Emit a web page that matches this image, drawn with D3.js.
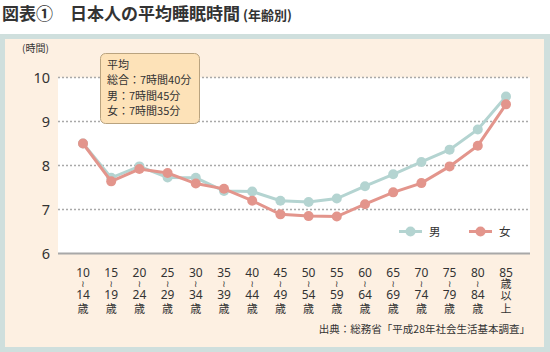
<!DOCTYPE html>
<html>
<head>
<meta charset="utf-8">
<script src="https://cdn.jsdelivr.net/npm/d3@7"></script>
<style>
	body { margin: 0; background: #fff; }
	svg { display: block; font-family: "Noto Sans CJK JP", "Noto Sans", sans-serif; }
</style>
</head>
<body>
<div id="chart"></div>
<script>
// age groups (top number, bottom lines)
const ageFrom = ['10','15','20','25','30','35','40','45','50','55','60','65','70','75','80','85'];
const ageTo = ['14','19','24','29','34','39','44','49','54','59','64','69','74','79','84',null];
// hours of sleep
const male = [8.50, 7.72, 7.98, 7.73, 7.72, 7.42, 7.41, 7.20, 7.17, 7.25, 7.53, 7.80, 8.08, 8.36, 8.82, 9.57];
const female = [8.50, 7.64, 7.92, 7.83, 7.59, 7.47, 7.20, 6.89, 6.85, 6.84, 7.12, 7.39, 7.60, 7.98, 8.45, 9.39];
const yTicks = [6, 7, 8, 9, 10];
const avgLines = ['平均', '総合：7時間40分', '男：7時間45分', '女：7時間35分'];

const width = 550, height = 352;
const maleColor = '#b4d4d1', femaleColor = '#e3958c';

const svg = d3.select('#chart').append('svg').attr('width', width).attr('height', height);

// title
const title = svg.append('text').attr('x', 2).attr('y', 20).attr('fill', '#333').style('font-weight', 'bold');
title.append('tspan').style('font-size', '17px').text('図表①');
title.append('tspan').attr('x', 70).style('font-size', '17px').text('日本人の平均睡眠時間');
title.append('tspan').attr('dx', 3).style('font-size', '13px').text('(年齢別)');

// frame
svg.append('rect').attr('x', 0).attr('y', 34).attr('width', 550).attr('height', 318).attr('fill', '#cfdfdd');
svg.append('rect').attr('x', 5).attr('y', 39).attr('width', 539).attr('height', 308).attr('fill', '#fdf0e2');

const x = d3.scalePoint().domain(ageFrom).range([83, 506]);
const y = d3.scaleLinear().domain([6, 10]).range([253.5, 77.5]);

// plot background
svg.append('rect').attr('x', 58).attr('y', y(10)).attr('width', 472).attr('height', y(6) - y(10)).attr('fill', '#fff');

// gridlines
svg.append('g').selectAll('line').data(yTicks.filter(d => d > 6)).join('line')
	.attr('x1', 58).attr('x2', 530)
	.attr('y1', d => y(d)).attr('y2', d => y(d))
	.attr('stroke', '#a9a9a9').attr('stroke-width', 1.5).attr('stroke-dasharray', '2,2');
svg.append('line').attr('x1', 58).attr('x2', 530).attr('y1', y(6)).attr('y2', y(6))
	.attr('stroke', '#a8a8a8').attr('stroke-width', 2);

// y axis labels
const yAxis = svg.append('g').attr('transform', 'translate(50,0)')
	.call(d3.axisLeft(y).tickValues(yTicks).tickFormat(d3.format('d')).tickSize(0).tickPadding(0));
yAxis.select('.domain').remove();
yAxis.selectAll('text').attr('fill', '#333').style('font-size', '14.5px')
	.style('font-family', '"Noto Sans", sans-serif');
svg.append('text').attr('x', 22).attr('y', 52).attr('fill', '#333').style('font-size', '10px').text('(時間)');

// x labels: one text per category, stacked with tspans
const xl = svg.append('g').selectAll('text').data(ageFrom).join('text')
	.attr('transform', d => `translate(${x(d)},0)`).attr('fill', '#333').attr('text-anchor', 'middle');
xl.each(function(d, i) {
	const t = d3.select(this);
	t.append('tspan').attr('x', 0).attr('y', 276.5).style('font-size', '12px')
		.style('font-family', '"Noto Sans", sans-serif').text(d);
	if (ageTo[i]) {
		t.append('tspan').attr('x', 0).attr('y', 287).style('font-size', '9px')
			.style('font-family', '"DejaVu Sans", sans-serif').text('≀');
		t.append('tspan').attr('x', 0).attr('y', 298.5).style('font-size', '12px')
			.style('font-family', '"Noto Sans", sans-serif').text(ageTo[i]);
		t.append('tspan').attr('x', 0).attr('y', 312.5).style('font-size', '11px').text('歳');
	} else {
		t.append('tspan').attr('x', 0).attr('y', 287.5).style('font-size', '11px').text('歳');
		t.append('tspan').attr('x', 0).attr('y', 300).style('font-size', '11px').text('以');
		t.append('tspan').attr('x', 0).attr('y', 312.5).style('font-size', '11px').text('上');
	}
});

// series
const line = d3.line().x((d, i) => x(ageFrom[i])).y(d => y(d));
[[male, maleColor], [female, femaleColor]].forEach(([vals, col]) => {
	svg.append('path').datum(vals).attr('d', line).attr('fill', 'none')
		.attr('stroke', col).attr('stroke-width', 3);
	svg.append('g').selectAll('circle').data(vals).join('circle')
		.attr('cx', (d, i) => x(ageFrom[i])).attr('cy', d => y(d)).attr('r', 5).attr('fill', col);
});

// average box
svg.append('rect').attr('x', 100.5).attr('y', 53.5).attr('width', 99).attr('height', 70).attr('rx', 5)
	.attr('fill', '#fde2b8').attr('stroke', '#b9a37f').attr('stroke-width', 1);
svg.append('g').selectAll('text').data(avgLines).join('text')
	.attr('x', 107).attr('y', (d, i) => 69 + i * 15.3).attr('fill', '#333').style('font-size', '11px').text(d => d);

// legend
const legend = svg.append('g').selectAll('g').data([['男', maleColor, 399], ['女', femaleColor, 469]]).join('g')
	.attr('transform', d => `translate(${d[2]},231.5)`);
legend.append('line').attr('x1', 0).attr('x2', 23).attr('stroke', d => d[1]).attr('stroke-width', 3);
legend.append('circle').attr('cx', 11.5).attr('r', 5).attr('fill', d => d[1]);
legend.append('text').attr('x', 30).attr('dy', '0.35em').attr('fill', '#333').style('font-size', '11.5px').text(d => d[0]);

// source
svg.append('text').attr('x', 530).attr('y', 333).attr('text-anchor', 'end').attr('fill', '#333')
	.style('font-size', '10.5px').text('出典：総務省「平成28年社会生活基本調査」');
</script>
</body>
</html>
